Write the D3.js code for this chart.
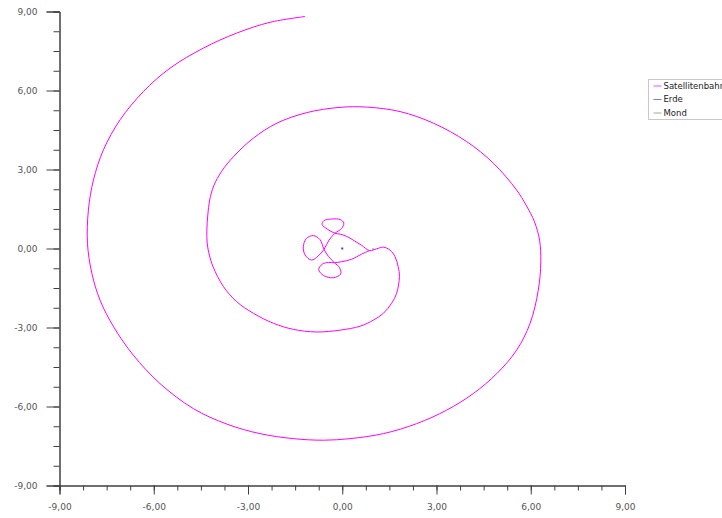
<!DOCTYPE html>
<html>
<head>
<meta charset="utf-8">
<script src="https://cdn.jsdelivr.net/npm/d3@7"></script>
<style>
  body { margin: 0; background: #fff; }
  svg { display: block; font-family: "DejaVu Sans", sans-serif; }
</style>
</head>
<body>
<svg id="chart" width="722" height="518"></svg>
<script>
// satellite track, from the outer end inwards
const satX = [-1.18, -2.30, -3.36, -4.42, -5.48, -6.33, -7.07, -7.60, -7.92, -8.08, -8.11, -7.97, -7.71, -7.28,
  -6.65, -5.80, -4.74, -3.67, -2.62, -1.56, -0.60, 0.25, 1.31, 2.37, 3.32, 4.17, 4.92, 5.55,
  5.98, 6.24, 6.32, 6.28, 6.12, 5.85, 5.55, 4.81, 3.96, 2.90, 1.84, 0.78, -0.07, -1.13, -2.08, -2.83, -3.46,
  -3.84, -4.09, -4.22, -4.28, -4.31, -4.30, -4.23, -4.11,
  -3.78, -3.36, -2.83, -2.19, -1.56, -0.83, -0.07, 0.57, 0.99, 1.31, 1.57, 1.73, 1.82, 1.78, 1.68, 1.52,
  1.31, 1.10, 0.87,
  0.62, 0.40, 0.16, -0.05, -0.23,
  -0.48, -0.64, -0.58, -0.33, -0.07, 0.05, -0.02, -0.23,
  -0.42, -0.58,
  -0.77, -0.98, -1.18, -1.24, -1.14, -0.92, -0.71, -0.58,
  -0.44, -0.25,
  -0.09, -0.05, -0.29, -0.59, -0.75, -0.63, -0.44, -0.25,
  -0.02, 0.30, 0.62, 0.87];
const satY = [8.81, 8.59, 8.18, 7.61, 6.85, 5.96, 4.89, 3.75, 2.60, 1.46, 0.20, -0.94, -1.96, -2.97,
  -4.05, -5.13, -6.08, -6.67, -7.03, -7.22, -7.28, -7.22, -7.03, -6.65, -6.14, -5.51, -4.75, -3.86,
  -2.84, -1.58, -0.51, 0.32, 1.01, 1.65, 2.22, 3.24, 4.06, 4.76, 5.20, 5.37, 5.36, 5.16, 4.76, 4.19, 3.49,
  2.93, 2.38, 1.84, 1.27, 0.70, 0.21, -0.25, -0.70,
  -1.45, -2.02, -2.46, -2.84, -3.07, -3.17, -3.10, -2.95, -2.72, -2.46, -2.08, -1.70, -1.07, -0.69, -0.31, -0.06,
  0.05, -0.01, -0.08,
  0.12, 0.28, 0.45, 0.54, 0.58,
  0.74, 0.91, 1.06, 1.12, 1.10, 0.97, 0.76, 0.58,
  0.32, -0.03,
  -0.29, -0.44, -0.25, 0.07, 0.38, 0.49, 0.34, -0.03,
  -0.30, -0.54,
  -0.72, -0.97, -1.11, -1.03, -0.80, -0.59, -0.53, -0.54,
  -0.50, -0.41, -0.21, -0.08];
const earthX = [0.0], earthY = [0.0];
const moonX = [0.98], moonY = [-0.02];

const majorTicks = [-9, -6, -3, 0, 3, 6, 9];
const minorTicks = d3.range(-9, 9.001, 0.75);
const seriesNames = ["Satellitenbahn", "Erde", "Mond"];
const seriesColors = ["#ff00ff", "#4040ff", "#808080"];

const svg = d3.select("#chart");

const x = d3.scaleLinear().domain([-9, 9]).range([59.5, 625]);
const y = d3.scaleLinear().domain([-9, 9]).range([485.5, 11.5]);

const fmt = v => d3.format(".2f")(v).replace(".", ",").replace("−", "-");

// minor ticks first, then the labelled ones on top
svg.append("g")
  .attr("class", "axis")
  .attr("transform", "translate(59.5,0)")
  .call(d3.axisLeft(y).tickValues(minorTicks).tickSize(6).tickFormat(""));
svg.append("g")
  .attr("class", "axis")
  .attr("transform", "translate(59.5,0)")
  .call(d3.axisLeft(y).tickValues(majorTicks).tickSize(13).tickPadding(9).tickFormat(fmt));

svg.append("g")
  .attr("class", "axis")
  .attr("transform", "translate(0,485.5)")
  .call(d3.axisBottom(x).tickValues(minorTicks).tickSize(5).tickFormat(""));
svg.append("g")
  .attr("class", "axis")
  .attr("transform", "translate(0,485.5)")
  .call(d3.axisBottom(x).tickValues(majorTicks).tickSize(9).tickPadding(9).tickFormat(fmt));

svg.selectAll(".axis path").attr("stroke", "#404040");
svg.selectAll(".axis line").attr("stroke", "#404040");
svg.selectAll(".axis text")
  .attr("fill", "#555")
  .style("font-family", "'DejaVu Sans', sans-serif")
  .style("font-size", "9px");

// trajectory
const track = satX.map((d, i) => [d, satY[i]]);
const line = d3.line()
  .x(d => x(d[0]))
  .y(d => y(d[1]))
  .curve(d3.curveCatmullRom.alpha(0.5));

svg.append("path")
  .datum(track)
  .attr("d", line)
  .attr("fill", "none")
  .attr("stroke", seriesColors[0])
  .attr("stroke-width", 1);

// earth and moon markers
svg.append("rect")
  .attr("x", x(earthX[0]) - 1)
  .attr("y", y(earthY[0]) - 1)
  .attr("width", 2)
  .attr("height", 2)
  .attr("fill", seriesColors[1]);

svg.append("rect")
  .attr("x", x(moonX[0]) - 1)
  .attr("y", y(moonY[0]) - 0.5)
  .attr("width", 2)
  .attr("height", 1)
  .attr("fill", seriesColors[2]);

// legend
const legend = svg.append("g").attr("transform", "translate(648.5,79.5)");
legend.append("rect")
  .attr("width", 90)
  .attr("height", 40)
  .attr("fill", "#fff")
  .attr("stroke", "#c8c8c8");

const items = legend.selectAll("g.item")
  .data(seriesNames)
  .enter()
  .append("g")
  .attr("class", "item")
  .attr("transform", (d, i) => `translate(0,${6.5 + i * 13.5})`);

items.append("line")
  .attr("x1", 5)
  .attr("x2", 13)
  .attr("stroke", (d, i) => seriesColors[i])
  .attr("stroke-opacity", 0.7);

items.append("text")
  .attr("x", 15)
  .attr("dy", "0.35em")
  .attr("fill", "#222")
  .style("font-size", "8.5px")
  .text(d => d);
</script>
</body>
</html>
